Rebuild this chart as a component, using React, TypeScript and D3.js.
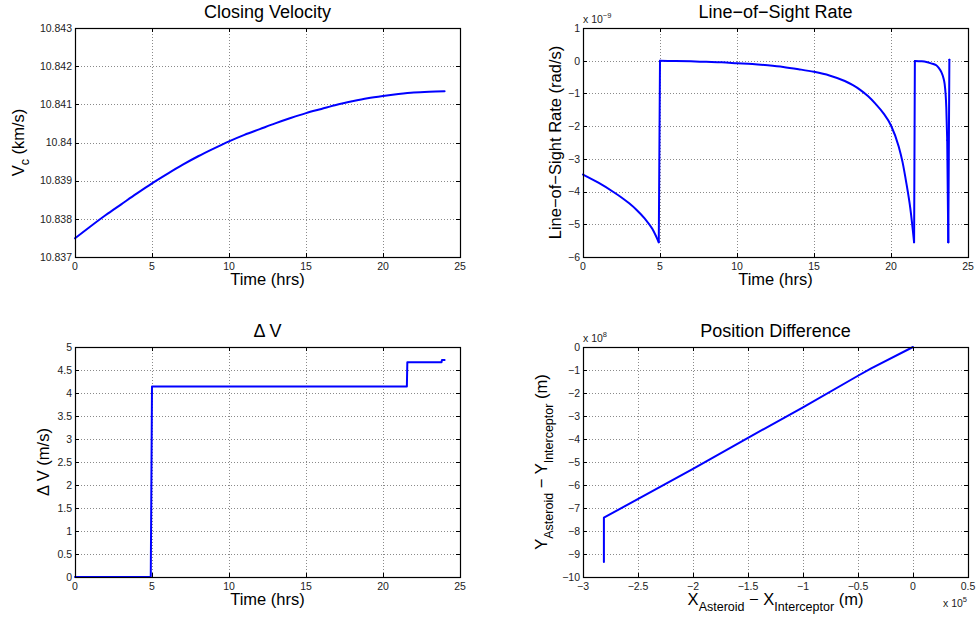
import React, { useEffect, useRef } from "react";
import * as d3 from "d3";

// closing velocity (km/s) vs time (hrs)
const vcTime = [0, 1, 2, 3, 4, 5, 6, 7, 8, 9, 10, 11, 12, 13, 14, 15, 16, 17, 18, 19, 20, 21, 22, 23, 24];
const vcValue = [
  10.83749, 10.8378, 10.8381, 10.83838, 10.83866, 10.83893, 10.83918, 10.83942, 10.83964,
  10.83984, 10.84003, 10.8402, 10.84035, 10.8405, 10.84064, 10.84077, 10.84088, 10.84099,
  10.84108, 10.84116, 10.84122, 10.84127, 10.84131, 10.84133, 10.84134,
];

// line-of-sight rate (x 1e-9 rad/s)
const losTime = [
  0, 1, 2, 2.5, 3, 3.5, 4, 4.5, 4.92,
  5.0, 6, 7, 8, 9, 10, 11, 12, 13, 14, 15, 16, 17, 17.5, 18, 18.5, 19, 19.5, 20, 20.5, 20.75, 21, 21.25, 21.5,
  21.55, 22.0, 22.3, 22.6, 22.94, 23.1, 23.27, 23.4, 23.48, 23.55, 23.59, 23.65, 23.72,
  23.79,
];
const losRate = [
  -3.48, -3.73, -4.02, -4.18, -4.36, -4.57, -4.82, -5.14, -5.55,
  0, -0.01, -0.02, -0.035, -0.05, -0.075, -0.1, -0.14, -0.19, -0.26, -0.34, -0.45, -0.62, -0.74, -0.89, -1.08, -1.32, -1.6, -1.98, -2.62, -3.1, -3.75, -4.5, -5.55,
  -0.01, -0.02, -0.04, -0.08, -0.14, -0.22, -0.35, -0.52, -0.7, -1.05, -1.42, -2.43, -5.55,
  0.03,
];

// delta V (m/s)
const dvTime = [0, 4.92, 5.0, 21.55, 21.58, 23.8, 23.83, 24.0];
const dvValue = [0, 0, 4.14, 4.14, 4.67, 4.67, 4.72, 4.72];

// position difference (x in 1e5 m, y in 1e8 m)
const posX = [-2.81, -2.81, -2.0, -1.5, -1.0, -0.5, -0.38, 0];
const posY = [-9.35, -7.42, -5.3, -3.95, -2.62, -1.25, -0.93, 0];

const timeTicks = [0, 5, 10, 15, 20, 25];
const vcTicks = [10.837, 10.838, 10.839, 10.84, 10.841, 10.842, 10.843];
const losTicks = [-6, -5, -4, -3, -2, -1, 0, 1];
const dvTicks = [0, 0.5, 1, 1.5, 2, 2.5, 3, 3.5, 4, 4.5, 5];
const posXTicks = [-3, -2.5, -2, -1.5, -1, -0.5, 0, 0.5];
const posYTicks = [-10, -9, -8, -7, -6, -5, -4, -3, -2, -1, 0];

const FONT = "'Liberation Sans', Arial, Helvetica, sans-serif";
const fmt = (d) => {
  const s = String(+d.toFixed(4));
  return s.startsWith("-") ? "\u2212" + s.slice(1) : s;
};

const App = () => {
  const ref = useRef(null);

  useEffect(() => {
    const svg = d3.select(ref.current);
    svg.selectAll("*").remove();

    const panels = [
      {
        box: { left: 75, right: 460, top: 28, bottom: 257 },
        xs: vcTime, ys: vcValue, xDomain: [0, 25], yDomain: [10.837, 10.843],
        xTicks: timeTicks, yTicks: vcTicks, title: "Closing Velocity",
        smooth: true,
        xLabel: [["Time (hrs)", 0]], yLabel: [["V", 0], ["c", 5], [" (km/s)", -5]], yLabelX: 24,
      },
      {
        box: { left: 583, right: 968, top: 28, bottom: 257 },
        xs: losTime, ys: losRate, xDomain: [0, 25], yDomain: [-6, 1],
        xTicks: timeTicks, yTicks: losTicks, title: "Line\u2212of\u2212Sight Rate",
        smooth: true,
        xLabel: [["Time (hrs)", 0]], yLabel: [["Line\u2212of\u2212Sight Rate (rad/s)", 0]], yLabelX: 561,
        yExp: "\u22129",
      },
      {
        box: { left: 75, right: 460, top: 347, bottom: 577 },
        xs: dvTime, ys: dvValue, xDomain: [0, 25], yDomain: [0, 5],
        xTicks: timeTicks, yTicks: dvTicks, title: "\u0394 V",
        smooth: false,
        xLabel: [["Time (hrs)", 0]], yLabel: [["\u0394 V (m/s)", 0]], yLabelX: 49,
      },
      {
        box: { left: 583, right: 968, top: 347, bottom: 577 },
        xs: posX, ys: posY, xDomain: [-3, 0.5], yDomain: [-10, 0],
        xTicks: posXTicks, yTicks: posYTicks, title: "Position Difference",
        smooth: false,
        xLabel: [["X", 0], ["Asteroid", 6], [" \u2212 X", -6], ["Interceptor", 6], [" (m)", -6]],
        yLabel: [["Y", 0], ["Asteroid", 6], [" \u2212 Y", -6], ["Interceptor", 6], [" (m)", -6]],
        yLabelX: 546.5,
        yExp: "8", xExp: "5",
      },
    ];

    panels.forEach((p) => {
      const { left, right, top, bottom } = p.box;
      const x = d3.scaleLinear().domain(p.xDomain).range([left, right]);
      const y = d3.scaleLinear().domain(p.yDomain).range([bottom, top]);
      const g = svg.append("g");

      // dotted grid
      g.selectAll(".gx")
        .data(p.xTicks.filter((t) => t !== p.xDomain[0] && t !== p.xDomain[1]))
        .enter()
        .append("line")
        .attr("x1", (d) => Math.round(x(d)) + 0.5)
        .attr("x2", (d) => Math.round(x(d)) + 0.5)
        .attr("y1", top)
        .attr("y2", bottom)
        .attr("stroke", "#8a8a8a")
        .attr("stroke-dasharray", "1,2");
      g.selectAll(".gy")
        .data(p.yTicks.filter((t) => t !== p.yDomain[0] && t !== p.yDomain[1]))
        .enter()
        .append("line")
        .attr("y1", (d) => Math.round(y(d)) + 0.5)
        .attr("y2", (d) => Math.round(y(d)) + 0.5)
        .attr("x1", left)
        .attr("x2", right)
        .attr("stroke", "#8a8a8a")
        .attr("stroke-dasharray", "1,2");

      // data line: smooth pieces between the sudden jumps, straight jumps
      const pts = p.xs.map((v, i) => [v, p.ys[i]]);
      const span = Math.abs(p.yDomain[1] - p.yDomain[0]);
      const pieces = [[pts[0]]];
      const jumps = [];
      for (let i = 1; i < pts.length; i++) {
        if (p.smooth && Math.abs(pts[i][1] - pts[i - 1][1]) > span * 0.3) {
          jumps.push([pts[i - 1], pts[i]]);
          pieces.push([pts[i]]);
        } else {
          pieces[pieces.length - 1].push(pts[i]);
        }
      }
      const lineSmooth = d3.line().x((d) => x(d[0])).y((d) => y(d[1]))
        .curve(p.smooth ? d3.curveMonotoneX : d3.curveLinear);
      const lineStraight = d3.line().x((d) => x(d[0])).y((d) => y(d[1]));
      pieces.concat(jumps).forEach((seg, k) => {
        g.append("path")
          .datum(seg)
          .attr("fill", "none")
          .attr("stroke", "#0000ff")
          .attr("stroke-width", 2)
          .attr("stroke-linejoin", "round")
          .attr("stroke-linecap", "round")
          .attr("d", k < pieces.length ? lineSmooth(seg) : lineStraight(seg));
      });

      // frame
      g.append("rect")
        .attr("x", left + 0.5)
        .attr("y", top + 0.5)
        .attr("width", right - left)
        .attr("height", bottom - top)
        .attr("fill", "none")
        .attr("stroke", "#000")
        .attr("stroke-width", 1.2);

      // inward ticks on all sides
      const tk = 4;
      p.xTicks.forEach((t) => {
        const xx = Math.round(x(t)) + 0.5;
        g.append("line").attr("x1", xx).attr("x2", xx).attr("y1", bottom).attr("y2", bottom - tk).attr("stroke", "#000");
        g.append("line").attr("x1", xx).attr("x2", xx).attr("y1", top).attr("y2", top + tk).attr("stroke", "#000");
      });
      p.yTicks.forEach((t) => {
        const yy = Math.round(y(t)) + 0.5;
        g.append("line").attr("y1", yy).attr("y2", yy).attr("x1", left).attr("x2", left + tk).attr("stroke", "#000");
        g.append("line").attr("y1", yy).attr("y2", yy).attr("x1", right).attr("x2", right - tk).attr("stroke", "#000");
      });

      // tick labels
      g.selectAll(".xl")
        .data(p.xTicks)
        .enter()
        .append("text")
        .attr("x", (d) => x(d))
        .attr("y", bottom + 12.5)
        .attr("text-anchor", "middle")
        .attr("font-size", 10.5)
        .attr("font-family", FONT)
        .attr("fill", "#222")
        .text(fmt);
      g.selectAll(".yl")
        .data(p.yTicks)
        .enter()
        .append("text")
        .attr("x", left - 3)
        .attr("y", (d) => y(d) + 3.8)
        .attr("text-anchor", "end")
        .attr("font-size", 10.5)
        .attr("font-family", FONT)
        .attr("fill", "#222")
        .text(fmt);

      // exponent labels
      if (p.yExp) {
        const t = g.append("text")
          .attr("x", left)
          .attr("y", top - 5)
          .attr("font-size", 10.5)
          .attr("font-family", FONT)
          .attr("fill", "#222");
        t.append("tspan").text("x 10");
        t.append("tspan").attr("dy", -5).attr("font-size", 7.5).text(p.yExp);
      }
      if (p.xExp) {
        const t = g.append("text")
          .attr("x", right - 25)
          .attr("y", bottom + 30)
          .attr("font-size", 10.5)
          .attr("font-family", FONT)
          .attr("fill", "#222");
        t.append("tspan").text("x 10");
        t.append("tspan").attr("dy", -5).attr("font-size", 7.5).text(p.xExp);
      }

      // title
      g.append("text")
        .attr("x", (left + right) / 2)
        .attr("y", top - 10)
        .attr("text-anchor", "middle")
        .attr("font-size", 18)
        .attr("font-family", FONT)
        .attr("fill", "#000")
        .text(p.title);

      // axis labels with subscript parts
      const addParts = (txt, parts) => {
        parts.forEach(([s, dy]) => {
          txt.append("tspan")
            .attr("dy", dy)
            .attr("font-size", dy > 0 ? 12.5 : 16.5)
            .text(s);
        });
      };
      const xl = g.append("text")
        .attr("x", (left + right) / 2)
        .attr("y", bottom + 28)
        .attr("text-anchor", "middle")
        .attr("font-size", 16.5)
        .attr("font-family", FONT)
        .attr("fill", "#000");
      addParts(xl, p.xLabel);

      const yl = g.append("text")
        .attr("transform", `translate(${p.yLabelX},${(top + bottom) / 2}) rotate(-90)`)
        .attr("text-anchor", "middle")
        .attr("font-size", 16.5)
        .attr("font-family", FONT)
        .attr("fill", "#000");
      addParts(yl, p.yLabel);
    });
  }, []);

  return (
    <svg
      ref={ref}
      width={977}
      height={620}
      style={{ position: "absolute", left: 0, top: 0, background: "#fff" }}
    />
  );
};

export default App;
